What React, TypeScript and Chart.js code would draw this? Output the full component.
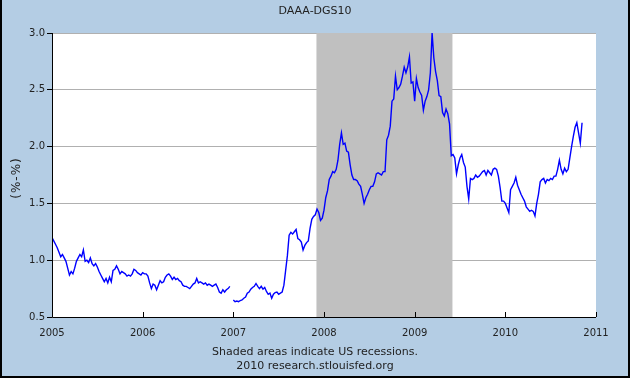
import React, { useEffect, useRef } from "react";
import { Chart, registerables } from "chart.js";
Chart.register(...registerables);

const chartTitle = "DAAA-DGS10";
const yAxisLabel = "(%-%)";
const footerLines = ["Shaded areas indicate US recessions.", "2010 research.stlouisfed.org"];
const xMin = 2005;
const xMax = 2011;
const yMin = 0.5;
const yMax = 3.0;
const yStep = 0.5;
const recessionStart = 2007 + 11 / 12;
const recessionEnd = 2009 + 5 / 12;

const years = [2005, 2006, 2007, 2008, 2009, 2010];
const v2005 = [1.20,1.17,1.14,1.11,1.07,1.03,1.05,1.02,0.99,0.93,0.87,0.90,0.88,0.93,0.99,1.02,1.05,1.03,1.09,0.99,1.00,0.98,1.02,0.97,0.95,0.97,0.94,0.90,0.87,0.84,0.81,0.84,0.80,0.85,0.81,0.91,0.92,0.95,0.92,0.88,0.90,0.89,0.88,0.86,0.87,0.86,0.88,0.92,0.91,0.89,0.88,0.87];
const v2006 = [0.89,0.88,0.88,0.86,0.80,0.75,0.79,0.78,0.74,0.78,0.82,0.80,0.81,0.85,0.87,0.88,0.86,0.83,0.85,0.83,0.84,0.82,0.81,0.78,0.77,0.77,0.76,0.75,0.77,0.79,0.80,0.84,0.80,0.81,0.80,0.79,0.80,0.78,0.79,0.78,0.77,0.78,0.79,0.76,0.72,0.71,0.74,0.72,0.74,0.75,0.77,null];
const v2007 = [0.65,0.635,0.64,0.635,0.645,0.65,0.665,0.675,0.71,0.72,0.745,0.76,0.77,0.795,0.77,0.75,0.77,0.745,0.76,0.725,0.70,0.71,0.665,0.70,0.715,0.72,0.70,0.71,0.72,0.78,0.91,1.04,1.22,1.245,1.23,1.25,1.27,1.19,1.18,1.16,1.09,1.13,1.155,1.17,1.28,1.36,1.385,1.40,1.45,1.42,1.35,1.37];
const v2008 = [1.44,1.55,1.61,1.71,1.74,1.78,1.77,1.80,1.88,2.02,2.12,2.02,2.03,1.96,1.95,1.84,1.75,1.71,1.71,1.70,1.67,1.65,1.58,1.50,1.55,1.58,1.62,1.65,1.65,1.69,1.76,1.77,1.76,1.75,1.78,1.78,2.06,2.10,2.18,2.40,2.42,2.62,2.50,2.52,2.55,2.62,2.70,2.65,2.70,2.79,2.56,2.57];
const v2009 = [2.40,2.60,2.52,2.48,2.45,2.32,2.40,2.44,2.50,2.65,3.00,2.78,2.66,2.58,2.45,2.44,2.30,2.27,2.33,2.29,2.20,1.92,1.93,1.90,1.76,1.84,1.90,1.93,1.86,1.82,1.65,1.54,1.72,1.71,1.72,1.75,1.73,1.74,1.76,1.78,1.79,1.75,1.79,1.77,1.75,1.80,1.81,1.80,1.74,1.64,1.52,1.52];
const v2010 = [1.50,1.46,1.42,1.62,1.65,1.68,1.73,1.66,1.62,1.58,1.55,1.52,1.47,1.45,1.43,1.44,1.43,1.39,1.50,1.58,1.69,1.71,1.72,1.68,1.71,1.70,1.72,1.71,1.74,1.74,1.80,1.88,1.80,1.76,1.81,1.78,1.80,1.90,2.00,2.09,2.17,2.21,2.12,2.03,2.21];
const seriesByYear = [v2005, v2006, v2007, v2008, v2009, v2010];

const FONT = "'DejaVu Sans', Verdana, sans-serif";
const BG = "#b4cde4";

export default function App() {
  const ref = useRef<HTMLCanvasElement>(null);
  useEffect(() => {
    document.body.style.margin = "0";
    const canvas = ref.current!;
    const points = seriesByYear.flatMap((vals, k) =>
      vals.map((v, i) => ({ x: years[k] + i / 52, y: v }))
    );
    const decor = {
      id: "decor",
      beforeDraw(chart: any) {
        const { ctx, chartArea: a, width, height } = chart;
        ctx.save();
        ctx.fillStyle = BG;
        ctx.fillRect(0, 0, width, height);
        ctx.fillStyle = "#ffffff";
        ctx.fillRect(a.left, a.top, a.right - a.left, a.bottom - a.top);
        ctx.restore();
      },
      beforeDatasetsDraw(chart: any) {
        const { ctx, chartArea: a, scales } = chart;
        const x0 = scales.x.getPixelForValue(recessionStart);
        const x1 = scales.x.getPixelForValue(recessionEnd);
        ctx.save();
        ctx.fillStyle = "#c0c0c0";
        ctx.fillRect(x0, a.top, x1 - x0, a.bottom - a.top);
        ctx.restore();
      },
      afterDraw(chart: any) {
        const { ctx, chartArea: a, scales, width, height } = chart;
        ctx.save();
        ctx.strokeStyle = "#000";
        ctx.lineWidth = 1;
        ctx.beginPath();
        ctx.moveTo(Math.round(a.left) + 0.5, a.top);
        ctx.lineTo(Math.round(a.left) + 0.5, Math.round(a.bottom) + 0.5);
        ctx.lineTo(a.right, Math.round(a.bottom) + 0.5);
        for (let yr = xMin; yr <= xMax; yr++) {
          const px = Math.round(scales.x.getPixelForValue(yr)) + 0.5;
          ctx.moveTo(px, Math.round(a.bottom));
          ctx.lineTo(px, Math.round(a.bottom) - 5);
        }
        ctx.stroke();
        ctx.fillStyle = "#222";
        ctx.textAlign = "center";
        ctx.textBaseline = "middle";
        ctx.font = `11px ${FONT}`;
        ctx.fillText(chartTitle, 315, 11);
        ctx.fillText(footerLines[0], 315, 352);
        ctx.fillText(footerLines[1], 315, 366);
        ctx.save();
        ctx.translate(17, 178);
        ctx.rotate(-Math.PI / 2);
        ctx.font = `12px ${FONT}`;
        (ctx as any).letterSpacing = "1px";
        ctx.fillText(yAxisLabel, 0, 0);
        ctx.restore();
        ctx.strokeStyle = "#000";
        ctx.lineWidth = 2;
        ctx.beginPath();
        ctx.moveTo(1, 0);
        ctx.lineTo(1, height - 1);
        ctx.lineTo(width - 1, height - 1);
        ctx.lineTo(width - 1, 0);
        ctx.stroke();
        ctx.restore();
      },
    };
    const chart = new Chart(canvas, {
      type: "line",
      data: {
        datasets: [
          {
            data: points,
            borderColor: "#0000ff",
            borderWidth: 1.4,
            pointRadius: 0,
            tension: 0,
            spanGaps: false,
            fill: false,
          },
        ],
      },
      options: {
        responsive: false,
        animation: false,
        layout: { padding: { left: 0, right: 34, top: 33, bottom: 0 } },
        plugins: { legend: { display: false }, tooltip: { enabled: false } },
        scales: {
          x: {
            type: "linear",
            min: xMin,
            max: xMax,
            afterFit(s: any) { s.height = 61; },
            grid: { display: false, drawTicks: false },
            border: { display: false },
            ticks: {
              stepSize: 1,
              padding: 10,
              maxRotation: 0,
              autoSkip: false,
              color: "#222",
              font: { family: FONT, size: 10 },
              callback: (v: any) => String(v),
            },
          },
          y: {
            min: yMin,
            max: yMax,
            afterFit(s: any) { s.width = 52; },
            grid: { color: "#b0b0b0", tickColor: "#000", tickLength: 5, lineWidth: 1 },
            border: { display: false },
            ticks: {
              stepSize: yStep,
              padding: 2,
              color: "#222",
              font: { family: FONT, size: 10 },
              callback: (v: any) => Number(v).toFixed(1),
            },
          },
        },
      },
      plugins: [decor],
    });
    return () => chart.destroy();
  }, []);
  return (
    <div style={{ position: "absolute", left: 0, top: 0 }}>
      <canvas ref={ref} width={630} height={378} style={{ display: "block", width: 630, height: 378 }} />
    </div>
  );
}
